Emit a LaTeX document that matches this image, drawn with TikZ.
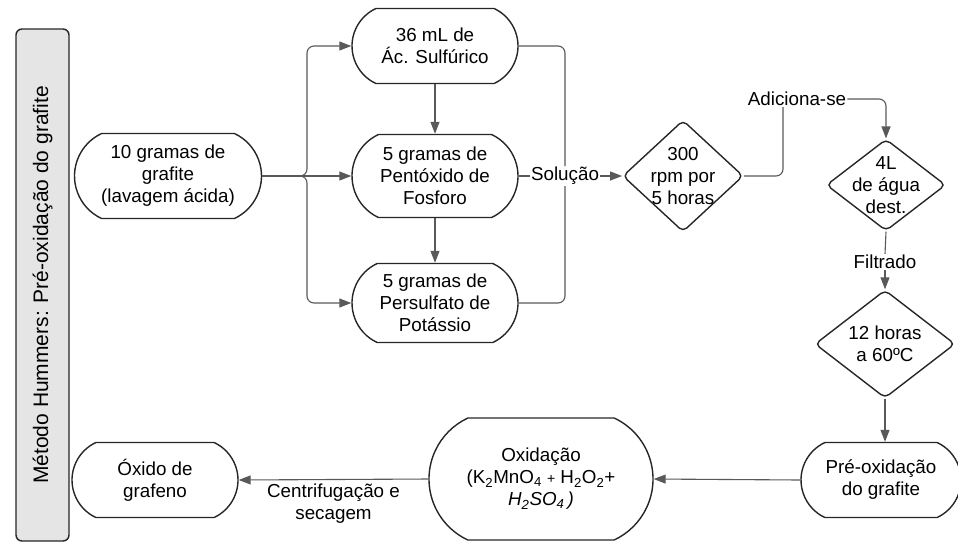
\documentclass[tikz,border=0pt]{standalone}
\usepackage{fontspec}
\setmainfont{Liberation Sans}
\usetikzlibrary{arrows.meta,shapes.misc,shapes.geometric}

\begin{document}
\begin{tikzpicture}[x=1pt,y=-1pt,font=\fontsize{18.8}{22}\selectfont]
\tikzstyle{term}=[rounded rectangle,rounded rectangle arc length=130,draw=black!85,line width=1.4pt,align=center,inner ysep=0pt,inner xsep=-8pt]
\tikzstyle{decision}=[diamond,draw=black!85,line width=1.4pt,rounded corners=5pt,align=center,inner sep=0pt]
\tikzstyle{lbl}=[fill=white,inner sep=1pt]
\tikzstyle{conn}=[draw=black!65,line width=1.1pt,rounded corners=7pt]
\tikzstyle{arr}=[conn,-{Triangle[length=12pt,width=9pt]}]

\useasboundingbox (0,0) rectangle (958,542);

% ========= title bar
\node (title) [draw=black!85,fill=black!10,line width=1.4pt,rounded corners=6pt,rotate=90,
  minimum width=512pt,minimum height=53pt,font=\fontsize{21}{25}\selectfont] at (42.5,285)
  {Método Hummers: Pré-oxidação do grafite};

% ========= steps
\node (start) [term,minimum width=171pt,minimum height=85pt] at (168,176) {10 gramas de\\grafite\\(lavagem ácida)};
\node (acid) [term,minimum width=150pt,minimum height=75pt] at (435,46) {36 mL de\\Ác. Sulfúrico};
\node (pent) [term,minimum width=150pt,minimum height=83pt] at (435,176) {5 gramas de\\Pentóxido de\\Fosforo};
\node (pers) [term,minimum width=150pt,minimum height=79pt] at (435,303) {5 gramas de\\Persulfato de\\Potássio};

\node (rpm) [decision,aspect=1.08,inner sep=-1.5pt] at (683,176) {300\\rpm por\\5 horas};
\node (agua) [decision,aspect=1.3,inner sep=-5pt] at (886,185) {4L\\de água\\dest.};
\node (temp) [decision,aspect=1.3,minimum width=140pt,minimum height=108pt] at (885,344) {12 horas\\a 60ºC};

\node (preox) [term,minimum width=144pt,minimum height=75pt] at (881,480) {Pré-oxidação\\do grafite};
\node (oxid) [term,minimum width=188pt,minimum height=122pt,inner xsep=-18pt] at (541,479)
  {Oxidação\\(K\textsubscript{2}MnO\textsubscript{4} {\fontsize{14}{22}\selectfont+} H\textsubscript{2}O\textsubscript{2}+\\\textit{H\textsubscript{2}SO\textsubscript{4}\,)}};
\node (grafeno) [term,minimum width=150pt,minimum height=75pt] at (155,480) {Óxido de\\grafeno};

% ========= labels
\node (sol) [lbl] at (565,176) {Solução};
\node (adic) [lbl] at (797,99) {Adiciona-se};
\node (filt) [lbl] at (885,262) {Filtrado};

% ====== connections
\coordinate (fork) at (307,176);
\draw [arr] (start.east) -| (fork |- acid.west) -- (acid.west);
\draw [arr] (start.east) -| (fork |- pers.west) -- (pers.west);
\draw [arr] (start.east) -- (pent.west);
\draw [arr] (acid.south) -- (pent.north);
\draw [arr] (pent.south) -- (pers.north);

\draw [conn] (acid.east) -| (sol.north);
\draw [conn] (pers.east) -| (sol.south);
\draw [conn] (pent.east) -- (sol.west);
\draw [arr] (sol.east) -- (rpm.west);

\draw [conn] (rpm.east) -| ([xshift=-14pt]adic.south);
\draw [arr] (adic.east) -| (agua.north);
\draw [conn] (agua.south) -- (filt.north);
\draw [arr] (filt.south) -- (temp.north);
\draw [arr] (temp.south) -- (temp.south |- preox.north);

\draw [arr] (preox.west) -- (oxid.east);
\draw [arr] (oxid.west) -- node [below,align=center,inner sep=4pt] (centr) {Centrifugação e\\secagem} (grafeno.east);
\end{tikzpicture}
\end{document}
